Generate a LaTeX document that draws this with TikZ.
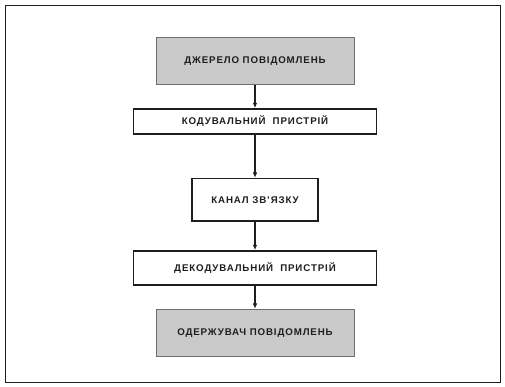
\documentclass[tikz,border=0pt]{standalone}
\usepackage{fontspec}
\setmainfont{Liberation Sans}
\usepackage{xcolor}
\usetikzlibrary{arrows.meta,positioning}
\definecolor{ScanGray}{HTML}{C9C9C9}
\definecolor{ScanInk}{HTML}{1E1E1E}
\definecolor{ScanEdge}{HTML}{6E6E6E}

\begin{document}
\begin{tikzpicture}[
  x=0.03cm,y=-0.03cm,
  blk/.style={draw=ScanInk,line width=1.4pt,fill=white,inner sep=0pt,
              font=\fontsize{8.3}{9}\selectfont\bfseries\addfontfeature{LetterSpace=9},text=ScanInk},
  endblk/.style={blk,draw=ScanEdge,line width=0.8pt,fill=ScanGray,
                 minimum width=5.94cm,minimum height=1.42cm},
  arr/.style={-{Latex[length=1.6mm,width=1.4mm]},line width=0.9pt,draw=ScanInk}
]
\useasboundingbox (0,0) rectangle (505,386);
\draw[draw=ScanInk,line width=0.8pt] (5,5) rectangle (500,382);
\node[endblk] (source) at (255,61) {ДЖЕРЕЛО ПОВІДОМЛЕНЬ};
\node[blk,minimum width=7.29cm,minimum height=0.75cm,below=6.9mm of source] (coder) {КОДУВАЛЬНИЙ\ \ ПРИСТРІЙ};
\node[blk,minimum width=3.78cm,minimum height=1.28cm,below=12.9mm of coder] (channel) {КАНАЛ ЗВ'ЯЗКУ};
\node[blk,minimum width=7.29cm,minimum height=1.02cm,below=8.4mm of channel] (decoder) {ДЕКОДУВАЛЬНИЙ\ \ ПРИСТРІЙ};
\node[endblk,below=6.9mm of decoder] (sink) {ОДЕРЖУВАЧ ПОВІДОМЛЕНЬ};
\draw[arr] (source) -- (coder);
\draw[arr] (coder) -- (channel);
\draw[arr] (channel) -- (decoder);
\draw[arr] (decoder) -- (sink);
\end{tikzpicture}
\end{document}
